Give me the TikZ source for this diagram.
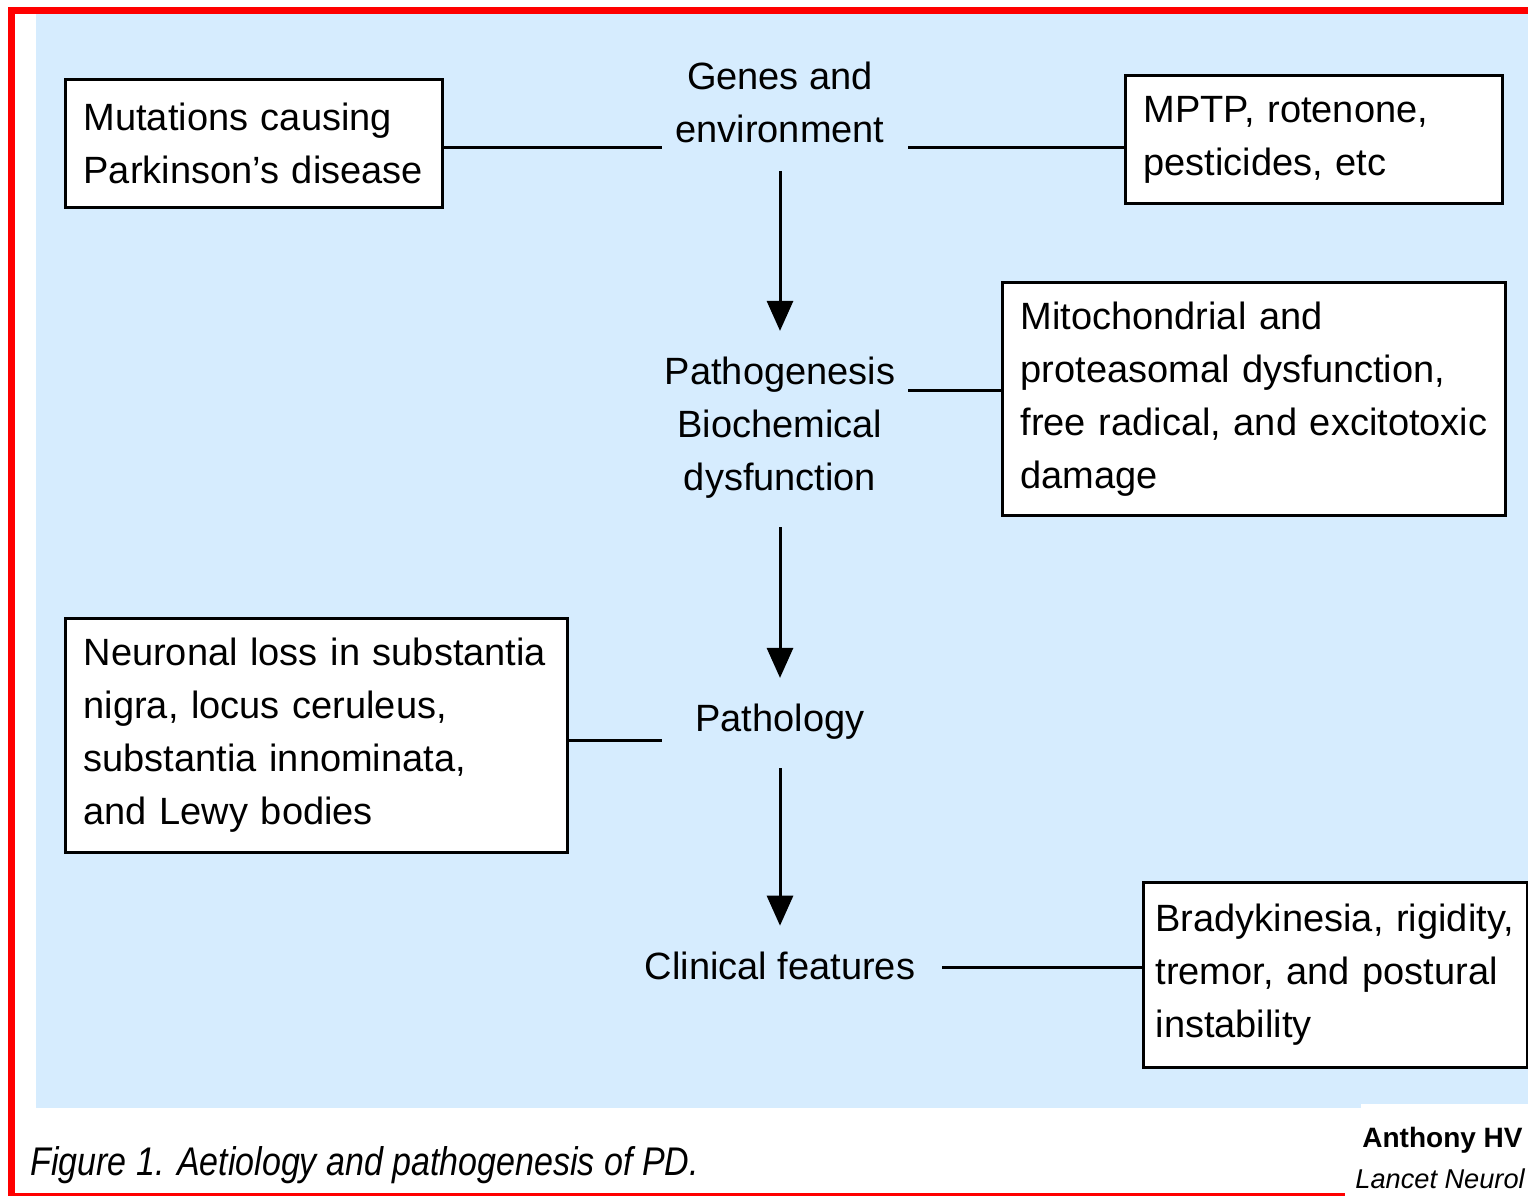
\documentclass[tikz,border=0pt]{standalone}
\usepackage{fontspec}
\setmainfont{Liberation Sans}
\newfontfamily\capfont[FakeStretch=0.85]{Liberation Sans}
\usetikzlibrary{arrows.meta, positioning, calc}
\definecolor{panelblue}{RGB}{214,236,254}
\definecolor{framered}{RGB}{255,0,0}

\begin{document}
\begin{tikzpicture}[
      x=0.5pt, y=-0.5pt,
      box/.style={draw, line width=1.6pt, fill=white, anchor=north west,
                  align=left, inner xsep=9pt, inner ysep=0pt,
                  font=\fontsize{19}{26.5}\selectfont},
      stage/.style={align=center, inner sep=0pt,
                    font=\fontsize{19}{26.5}\selectfont},
      link/.style={line width=1.5pt},
      arr/.style={line width=1.5pt, -{Triangle[width=13pt,length=15pt]},
                  shorten <=14pt, shorten >=13pt}
    ]
    \useasboundingbox (0,0) rectangle (1528,1196);
    \clip (0,0) rectangle (1528,1196);
    \fill[white] (0,0) rectangle (1528,1196);
    \fill[panelblue] (36,14) rectangle (1528,1104);
    \fill[panelblue] (36,1104) rectangle (1361,1108);
    % red frame (open on the right)
    \fill[framered] (8,7) rectangle (1528,14);
    \fill[framered] (8,7) rectangle (15,1196);
    \fill[framered] (8,1193) rectangle (1345,1196);

    \node[stage] (genes) at (780,102) {Genes and\\environment};
    \node[stage] (patho) at (780,428) {Pathogenesis\\Biochemical\\dysfunction};
    \node[stage] (pathol) at (780,722) {Pathology};
    \node[stage] (clin) at (780,966) {Clinical features};

    \node[box, minimum width=188.5pt, minimum height=64pt, text width=170.5pt]
          (mut) at (64,78) {Mutations causing\\Parkinson's disease};
    \node[box, minimum width=188.5pt, minimum height=64pt, text width=170.5pt]
          (mptp) at (1124,74) {MPTP, rotenone,\\pesticides, etc};
    \node[box, minimum width=251.5pt, minimum height=116.5pt, text width=233.5pt]
          (mito) at (1001,281) {Mitochondrial and\\proteasomal dysfunction,\\free radical, and excitotoxic\\damage};
    \node[box, minimum width=251pt, minimum height=117pt, text width=233pt]
          (neur) at (64,617) {Neuronal loss in substantia\\nigra, locus ceruleus,\\substantia innominata,\\and Lewy bodies};
    \node[box, minimum width=192pt, minimum height=92.5pt, text width=180pt,
          inner xsep=6pt]
          (brady) at (1142,881) {Bradykinesia, rigidity,\\tremor, and postural\\instability};

    \coordinate (genesL) at (662,147);
    \coordinate (genesR) at (908,147);
    \coordinate (pathoR) at (908,390);
    \coordinate (patholL) at (662,740);
    \coordinate (clinR) at (942,967);

    \draw[link] (mut.east |- genesL) -- (genesL);
    \draw[link] (genesR) -- (genesR -| mptp.west);
    \draw[link] (pathoR) -- (pathoR -| mito.west);
    \draw[link] (patholL -| neur.east) -- (patholL);
    \draw[link] (clinR) -- (clinR -| brady.west);
    \draw[arr] (genes) -- (patho);
    \draw[arr] (patho) -- (pathol);
    \draw[arr] (pathol) -- (clin);

    % caption and credit at the foot
    \node[anchor=base west, inner sep=0pt,
          font=\capfont\itshape\fontsize{20}{24}\selectfont]
          (caption) at (30,1175) {Figure 1. Aetiology and pathogenesis of PD.};
    \node[anchor=base west, inner sep=0pt,
          font=\bfseries\fontsize{14}{17}\selectfont]
          (author) at (1362,1147) {Anthony HV};
    \node[anchor=base west, inner sep=0pt,
          font=\itshape\fontsize{13.6}{17}\selectfont]
          (journal) at (1355,1188) {Lancet Neurol};
  \end{tikzpicture}
\end{document}
